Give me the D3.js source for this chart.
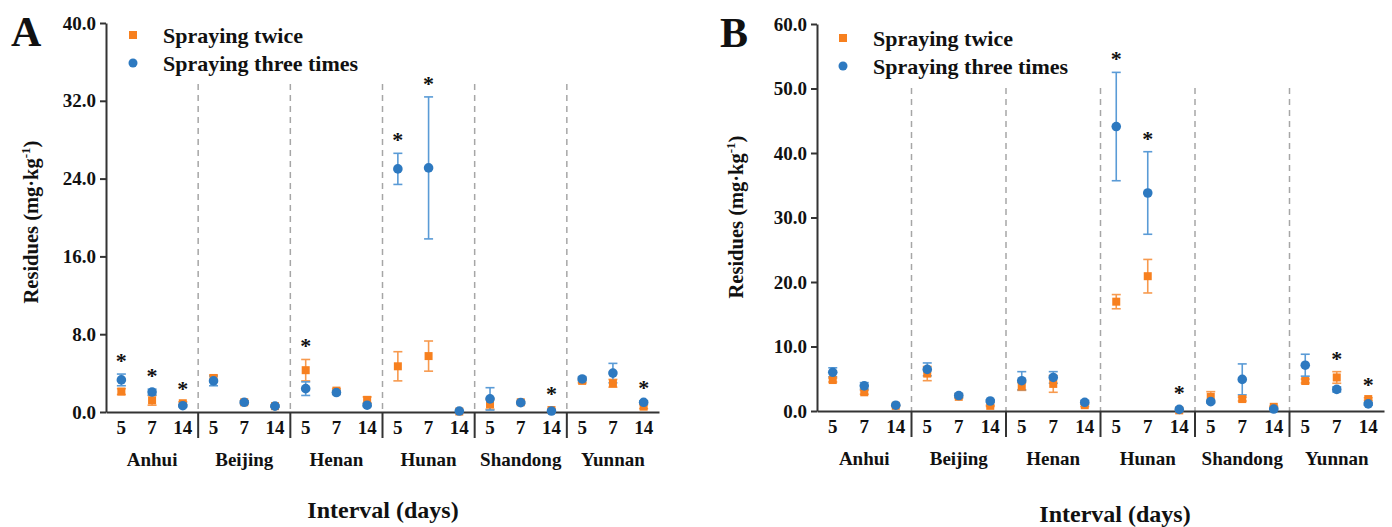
<!DOCTYPE html>
<html>
<head>
<meta charset="utf-8">
<script src="https://cdn.jsdelivr.net/npm/d3@7"></script>
<style>
  body { margin: 0; background: #fff; }
  svg text { font-family: "Liberation Serif", "Times New Roman", serif; font-weight: bold; fill: #111; }
</style>
</head>
<body>
<div id="chart"></div>
<script>
// categories
const regions = ["Anhui", "Beijing", "Henan", "Hunan", "Shandong", "Yunnan"];
const intervals = ["5", "7", "14"];

// panel A : mean and sd per region x interval
const twiceA = [[2.1, 1.2, 0.9], [3.5, 1.0, 0.6], [4.3, 2.2, 1.25], [4.7, 5.75, 0.05], [0.8, 1.0, 0.2], [3.2, 2.95, 0.55]];
const twiceSdA = [[0.3, 0.5, 0.15], [0.3, 0.15, 0.1], [1.1, 0.2, 0.3], [1.5, 1.55, 0.02], [0.5, 0.1, 0.1], [0.2, 0.4, 0.2]];
const threeA = [[3.3, 2.05, 0.65], [3.2, 1.0, 0.6], [2.4, 2.0, 0.7], [25.0, 25.1, 0.1], [1.35, 0.96, 0.1], [3.4, 4.0, 1.0]];
const threeSdA = [[0.6, 0.3, 0.1], [0.5, 0.15, 0.1], [0.7, 0.2, 0.15], [1.6, 7.3, 0.02], [1.15, 0.1, 0.05], [0.2, 1.0, 0.15]];
const sigA = [[1, 1, 1], [0, 0, 0], [1, 0, 0], [1, 1, 0], [0, 0, 1], [0, 0, 1]];
const yTicksA = [0, 8, 16, 24, 32, 40];

// panel B
const twiceB = [[4.8, 2.9, 0.8], [5.8, 2.2, 0.8], [3.8, 4.2, 0.9], [16.95, 20.9, 0.1], [2.2, 1.85, 0.65], [4.65, 5.2, 1.85]];
const twiceSdB = [[0.3, 0.3, 0.1], [1.1, 0.2, 0.1], [0.6, 1.3, 0.2], [1.1, 2.6, 0.05], [0.8, 0.3, 0.1], [0.3, 0.9, 0.2]];
const threeB = [[6.0, 3.9, 0.9], [6.45, 2.4, 1.55], [4.7, 5.2, 1.35], [44.1, 33.8, 0.25], [1.45, 4.9, 0.3], [7.1, 3.35, 1.1]];
const threeSdB = [[0.7, 0.5, 0.1], [1.0, 0.3, 0.2], [1.4, 0.9, 0.3], [8.4, 6.4, 0.05], [0.2, 2.4, 0.1], [1.7, 0.4, 0.2]];
const sigB = [[0, 0, 0], [0, 0, 0], [0, 0, 0], [1, 1, 1], [0, 0, 0], [0, 1, 1]];
const yTicksB = [0, 10, 20, 30, 40, 50, 60];

const orange = "#f7801f", orangeErr = "#f79a4e";
const blue = "#2d79c0", blueErr = "#5a9bd6";

const svg = d3.select("#chart").append("svg")
  .attr("width", 1392)
  .attr("height", 527);

function flatten(means, sds) {
  const out = [];
  regions.forEach((r, i) => intervals.forEach((iv, j) => {
    out.push({ region: r, interval: iv, mean: means[i][j], sd: sds[i][j] });
  }));
  return out;
}

function drawPanel(p) {
  const g = svg.append("g");

  const y = d3.scaleLinear().domain([0, p.yMax]).range([p.bottom, p.top]);
  const x = d3.scaleBand().domain(regions).range([p.left, p.right]);
  const xi = d3.scaleBand().domain(intervals).range([0, x.bandwidth()]);
  const cx = d => x(d.region) + xi(d.interval) + xi.bandwidth() / 2;

  // dashed region dividers
  g.selectAll(".divider")
    .data(regions.slice(1))
    .enter()
    .append("line")
    .attr("x1", d => x(d)).attr("x2", d => x(d))
    .attr("y1", p.dashTop).attr("y2", p.bottom)
    .attr("stroke", "#a6a6a6")
    .attr("stroke-width", 1.5)
    .attr("stroke-dasharray", "6,5");

  // y axis
  const yAxis = g.append("g")
    .attr("transform", `translate(${p.left},0)`)
    .call(d3.axisLeft(y).tickValues(p.yTicks).tickFormat(d3.format(".1f")).tickSize(6).tickSizeOuter(0).tickPadding(4));
  yAxis.selectAll("text").style("font-size", "19px");

  // x axis line
  const xAxis = g.append("g")
    .attr("transform", `translate(0,${p.bottom})`)
    .call(d3.axisBottom(x).tickValues([]).tickSizeOuter(0));

  [yAxis, xAxis].forEach(a => {
    a.select(".domain").attr("stroke", "#333").attr("stroke-width", 2);
    a.selectAll(".tick line").attr("stroke", "#333").attr("stroke-width", 2);
  });

  // separators below axis
  g.selectAll(".sep")
    .data(regions.slice(1))
    .enter()
    .append("line")
    .attr("x1", d => x(d)).attr("x2", d => x(d))
    .attr("y1", p.bottom).attr("y2", p.bottom + 26)
    .attr("stroke", "#333")
    .attr("stroke-width", 2);

  // interval tick labels per region
  regions.forEach(r => {
    const a = g.append("g")
      .attr("transform", `translate(${x(r)},${p.bottom})`)
      .call(d3.axisBottom(xi).tickSize(0).tickPadding(9));
    a.select(".domain").remove();
    a.selectAll("text").style("font-size", "19px");
  });

  // region labels
  g.selectAll(".region")
    .data(regions)
    .enter()
    .append("text")
    .attr("x", d => x(d) + x.bandwidth() / 2)
    .attr("y", p.bottom + 54)
    .attr("text-anchor", "middle")
    .style("font-size", "19px")
    .text(d => d);

  // axis titles
  g.append("text")
    .attr("x", p.xTitleX).attr("y", p.xTitleY)
    .attr("text-anchor", "middle")
    .style("font-size", "24px")
    .text("Interval (days)");

  const yt = g.append("text")
    .attr("transform", `translate(${p.yTitleX},${p.yTitleY}) rotate(-90)`)
    .attr("text-anchor", "middle")
    .style("font-size", "20.5px");
  yt.append("tspan").text("Residues (mg·kg");
  yt.append("tspan").attr("dy", -8).style("font-size", "13px").text("-1");
  yt.append("tspan").attr("dy", 8).text(")");

  // panel letter
  g.append("text")
    .attr("x", p.letterX).attr("y", p.letterY)
    .style("font-size", "42px")
    .text(p.letter);

  // legend
  const lg = g.append("g").attr("transform", `translate(${p.legX},${p.legY})`);
  lg.append("rect").attr("x", -4).attr("y", -4).attr("width", 8).attr("height", 8).attr("fill", orange);
  lg.append("circle").attr("cx", 0).attr("cy", 28).attr("r", 4.5).attr("fill", blue);
  lg.append("text").attr("x", 30).attr("y", 8).style("font-size", "22px").text("Spraying twice");
  lg.append("text").attr("x", 30).attr("y", 36).style("font-size", "22px").text("Spraying three times");

  const sets = [
    { data: flatten(p.twice, p.twiceSd), color: orange, err: orangeErr, shape: "square" },
    { data: flatten(p.three, p.threeSd), color: blue, err: blueErr, shape: "circle" }
  ];

  // error bars
  sets.forEach(s => {
    const eb = g.selectAll(null).data(s.data.filter(d => d.sd > 0.05)).enter().append("g")
      .attr("stroke", s.err).attr("stroke-width", 1.6);
    eb.append("line")
      .attr("x1", cx).attr("x2", cx)
      .attr("y1", d => y(d.mean + d.sd)).attr("y2", d => y(Math.max(0, d.mean - d.sd)));
    eb.append("line")
      .attr("x1", d => cx(d) - 4.5).attr("x2", d => cx(d) + 4.5)
      .attr("y1", d => y(d.mean + d.sd)).attr("y2", d => y(d.mean + d.sd));
    eb.append("line")
      .attr("x1", d => cx(d) - 4.5).attr("x2", d => cx(d) + 4.5)
      .attr("y1", d => y(Math.max(0, d.mean - d.sd))).attr("y2", d => y(Math.max(0, d.mean - d.sd)));
  });

  // markers
  g.selectAll(null).data(sets[0].data).enter().append("rect")
    .attr("x", d => cx(d) - 4).attr("y", d => y(d.mean) - 4)
    .attr("width", 8).attr("height", 8)
    .attr("fill", orange);
  g.selectAll(null).data(sets[1].data).enter().append("circle")
    .attr("cx", cx).attr("cy", d => y(d.mean))
    .attr("r", 4.8)
    .attr("fill", blue);

  // significance stars
  const stars = [];
  regions.forEach((r, i) => intervals.forEach((iv, j) => {
    if (p.sig[i][j]) {
      const top = Math.max(p.twice[i][j] + p.twiceSd[i][j], p.three[i][j] + p.threeSd[i][j]);
      stars.push({ region: r, interval: iv, top: top });
    }
  }));
  g.selectAll(null).data(stars).enter().append("text")
    .attr("x", cx)
    .attr("y", d => Math.min(y(d.top), p.bottom - 5) - 6)
    .attr("text-anchor", "middle")
    .style("font-size", "22px")
    .text("*");
}

drawPanel({
  letter: "A", letterX: 11, letterY: 46,
  left: 106, right: 659, top: 23, bottom: 412, yMax: 40, yTicks: yTicksA,
  dashTop: 84,
  twice: twiceA, twiceSd: twiceSdA, three: threeA, threeSd: threeSdA, sig: sigA,
  legX: 133, legY: 35,
  xTitleX: 383, xTitleY: 518,
  yTitleX: 38, yTitleY: 222
});

drawPanel({
  letter: "B", letterX: 720, letterY: 47,
  left: 817, right: 1384, top: 24, bottom: 411, yMax: 60, yTicks: yTicksB,
  dashTop: 88,
  twice: twiceB, twiceSd: twiceSdB, three: threeB, threeSd: threeSdB, sig: sigB,
  legX: 843, legY: 38,
  xTitleX: 1115, xTitleY: 522,
  yTitleX: 743, yTitleY: 217
});
</script>
</body>
</html>
